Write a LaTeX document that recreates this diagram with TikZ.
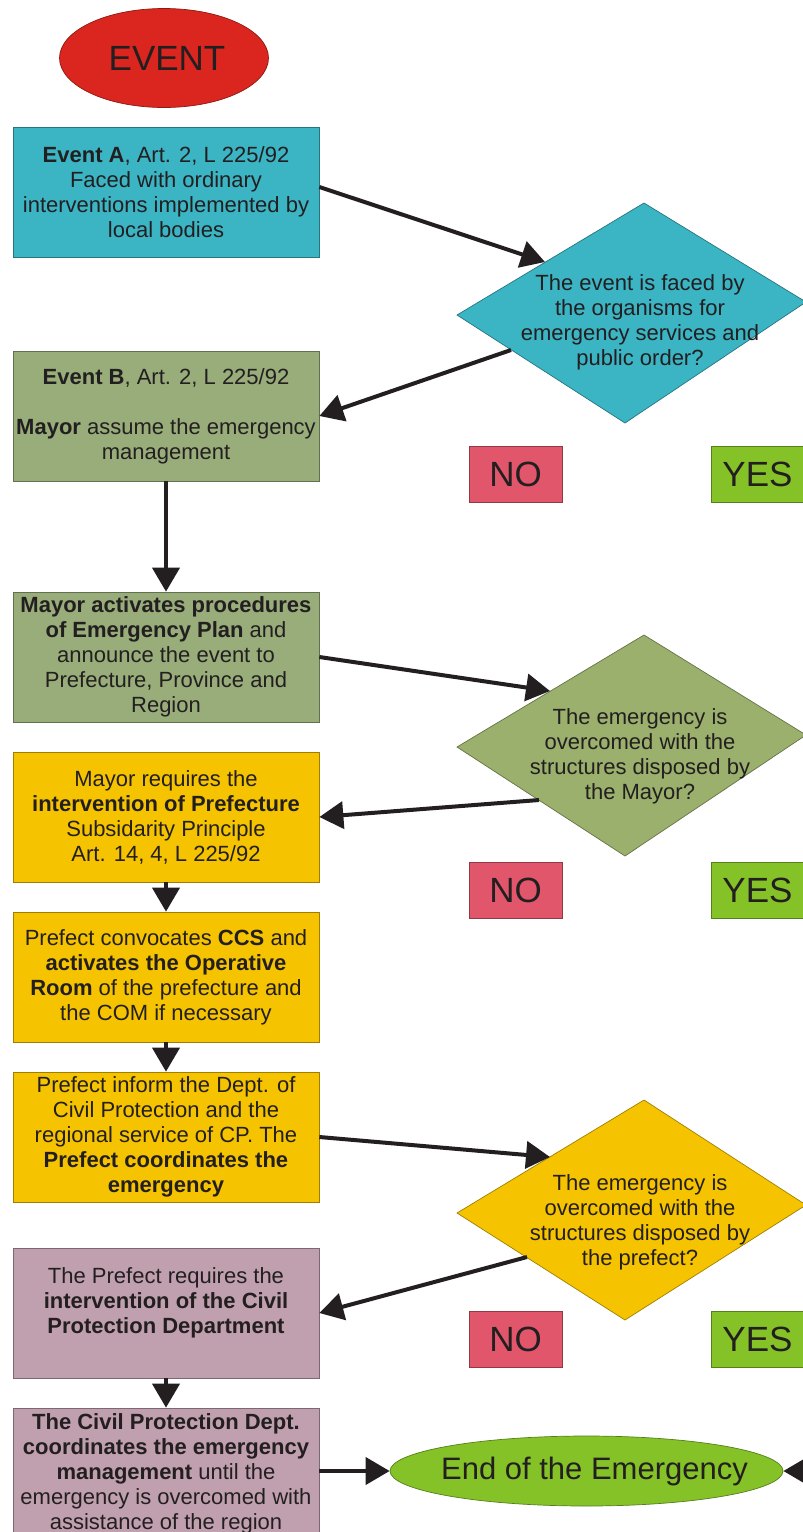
\documentclass[tikz,border=0pt]{standalone}
\usepackage{fontspec}
\setmainfont{Liberation Sans}
\usetikzlibrary{arrows.meta,shapes.geometric}

\definecolor{ink}{RGB}{35,31,32}
\definecolor{evred}{RGB}{218,38,30}
\definecolor{tcyan}{RGB}{59,180,196}
\definecolor{sage}{RGB}{152,173,122}
\definecolor{sageq}{RGB}{154,176,108}
\definecolor{amber}{RGB}{245,195,0}
\definecolor{mauve}{RGB}{192,160,174}
\definecolor{nopink}{RGB}{226,86,108}
\definecolor{yesgreen}{RGB}{132,194,40}

\begin{document}
\begin{tikzpicture}[x=1pt,y=-1pt,
  txt/.style={font=\fontsize{22}{25}\selectfont, text=ink, align=center},
  box/.style={txt, draw=#1!65!black, line width=0.7pt, fill=#1,
    minimum width=306pt, minimum height=130pt, inner sep=2pt},
  quest/.style={fill=#1, draw=#1!65!black, line width=0.7pt},
  answer/.style={draw=#1!65!black, line width=0.7pt, fill=#1,
    minimum width=93pt, minimum height=56pt, inner sep=0pt,
    font=\fontsize{35}{40}\selectfont, text=ink},
  oval/.style={ellipse, draw=#1!65!black, line width=0.7pt, fill=#1,
    inner xsep=-70pt, inner ysep=0pt, text=ink},
  arr/.style={draw=ink, line width=4pt,
    -{Triangle[length=24pt,width=27pt]}}
]
\useasboundingbox (0,0) rectangle (803,1532);
\clip (0,0) rectangle (803,1532);

% start
\node[oval=evred, minimum width=209pt, minimum height=99pt,
  font=\fontsize{35}{40}\selectfont] (ev) at (164,58) {\hspace*{6pt}EVENT};

% left column of boxes
\node[box=tcyan] (ea) at (166,192)
  {\textbf{Event A}, Art. 2, L 225/92\\ Faced with ordinary\\
   interventions implemented by\\ local bodies};
\node[box=sage] (eb) at (166,416)
  {\textbf{Event B}, Art. 2, L 225/92\\[25pt]
   \textbf{Mayor} assume the emergency\\ management};
\node[box=sage] (ma) at (166,657)
  {\textbf{Mayor activates procedures}\\ \textbf{of Emergency Plan} and\\
   announce the event to\\ Prefecture, Province and\\ Region};
\node[box=amber] (mr) at (166,817)
  {Mayor requires the\\ \textbf{intervention of Prefecture}\\
   Subsidarity Principle\\ Art. 14, 4, L 225/92};
\node[box=amber] (pc) at (166,977)
  {Prefect convocates \textbf{CCS} and\\ \textbf{activates the Operative}\\
   \textbf{Room} of the prefecture and\\ the COM if necessary};
\node[box=amber] (pi) at (166,1137)
  {Prefect inform the Dept. of\\ Civil Protection and the\\
   regional service of CP. The\\ \textbf{Prefect coordinates the}\\
   \textbf{emergency}};
\node[box=mauve] (pr) at (166,1313)
  {The Prefect requires the\\ \textbf{intervention of the Civil}\\
   \textbf{Protection Department}\\ \mbox{}};
\node[box=mauve, minimum height=132pt] (cp) at (166,1474)
  {\textbf{The Civil Protection Dept.}\\ \textbf{coordinates the emergency}\\
   \textbf{management} until the\\ emergency is overcomed with\\
   assistance of the region};

% decisions
\filldraw[quest=tcyan] (644,203) -- (806,302) -- (625,423) -- (457,315) -- cycle;
\node[txt] (q1) at (640,322)
  {The event is faced by\\ the organisms for\\ emergency services and\\ public order?};
\coordinate (q1in) at (545,262);
\coordinate (q1out) at (511,350);

\filldraw[quest=sageq] (644,635) -- (806,735) -- (625,856) -- (457,747) -- cycle;
\node[txt] (q2) at (640,756)
  {The emergency is\\ overcomed with the\\ structures disposed by\\ the Mayor?};
\coordinate (q2in) at (550,691);
\coordinate (q2out) at (539,800);

\filldraw[quest=amber] (644,1100) -- (806,1205) -- (625,1320) -- (457,1213) -- cycle;
\node[txt] (q3) at (640,1222)
  {The emergency is\\ overcomed with the\\ structures disposed by\\ the prefect?};
\coordinate (q3in) at (550,1157);
\coordinate (q3out) at (527,1257);

% answers
\node[answer=nopink] (no1) at (515.5,474) {NO};
\node[answer=yesgreen] (yes1) at (757.5,474) {YES};
\node[answer=nopink] (no2) at (515.5,890.5) {NO};
\node[answer=yesgreen] (yes2) at (757.5,890.5) {YES};
\node[answer=nopink] (no3) at (515.5,1339.5) {NO};
\node[answer=yesgreen] (yes3) at (757.5,1339.5) {YES};

% end
\node[oval=yesgreen, minimum width=393pt, minimum height=70pt,
  font=\fontsize{31}{36}\selectfont] (en) at (586.5,1471)
  {\hspace*{16pt}End of the Emergency};
\coordinate (fromright) at (840,1471);

% connectors
\draw[arr] ([yshift=5pt]ea.east) -- (q1in);
\draw[arr] (q1out) -- (eb.east);
\draw[arr] (eb.south) -- (ma.north);
\draw[arr] (ma.east) -- (q2in);
\draw[arr] (q2out) -- (mr.east);
\draw[arr] (mr.south) -- (pc.north);
\draw[arr] (pc.south) -- (pi.north);
\draw[arr] (pi.east) -- (q3in);
\draw[arr] (q3out) -- (pr.east);
\draw[arr] (pr.south) -- (cp.north);
\draw[arr] (cp.east |- en.west) -- (en.west);
\draw[arr] (fromright) -- (en.east);
\end{tikzpicture}
\end{document}
